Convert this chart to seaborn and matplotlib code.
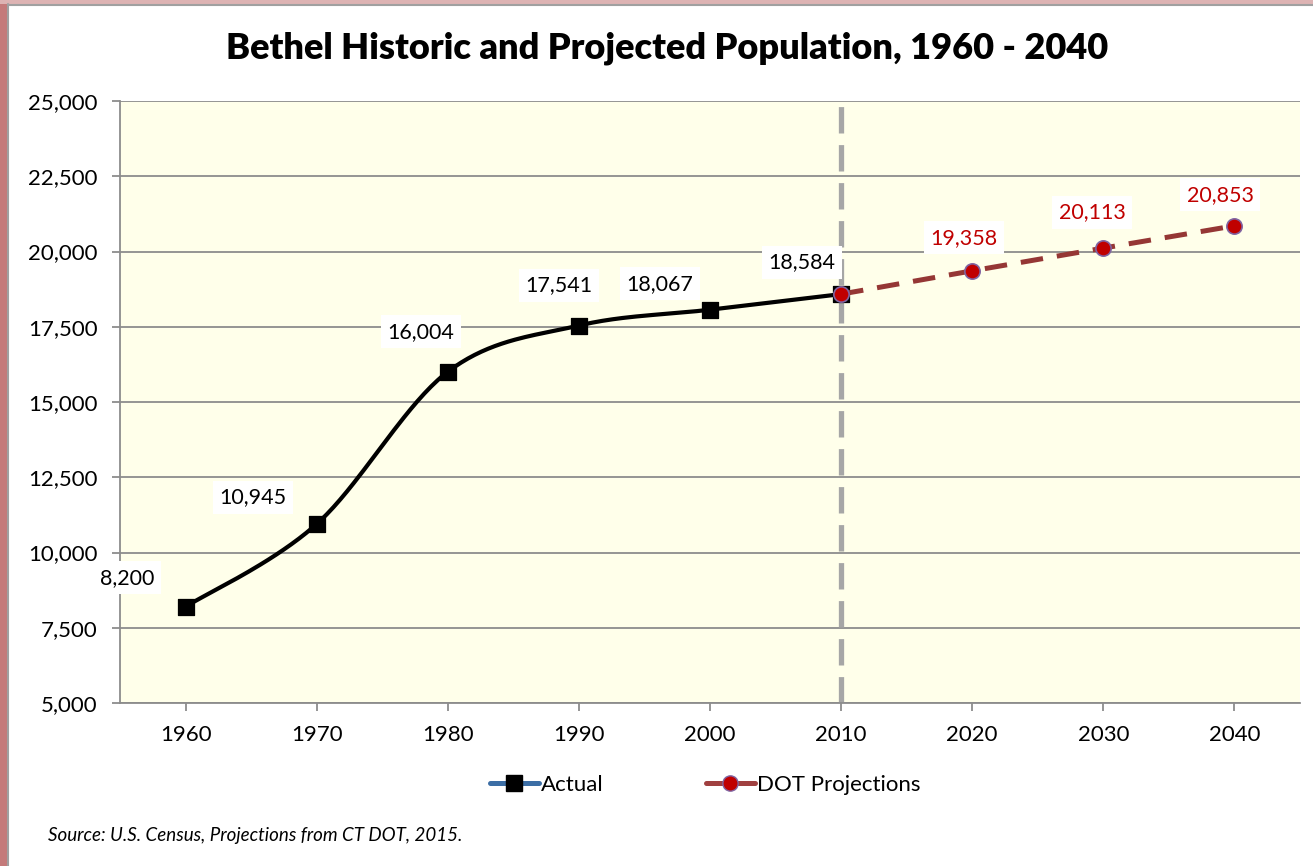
import numpy as np
import seaborn as sns
import matplotlib.pyplot as plt
from matplotlib.lines import Line2D
from matplotlib.patches import Rectangle

years_actual = [1960, 1970, 1980, 1990, 2000, 2010]
pop_actual = [8200, 10945, 16004, 17541, 18067, 18584]
years_proj = [2010, 2020, 2030, 2040]
pop_proj = [18584, 19358, 20113, 20853]
x_ticks = [1960, 1970, 1980, 1990, 2000, 2010, 2020, 2030, 2040]
y_ticks = [5000, 7500, 10000, 12500, 15000, 17500, 20000, 22500, 25000]

# label offsets in pixels (dx, dy)
off_actual = [(-58, 29), (-64, 27), (-27, 40), (-20, 40), (-50, 26), (-39, 32)]
off_proj = [(-8, 33), (-11, 36), (-14, 31)]

sns.set_style("white")
plt.rcParams['font.family'] = ['Lato', 'DejaVu Sans']
plt.rcParams['text.color'] = 'black'

fig = plt.figure(figsize=(13.13, 8.66), dpi=100)
W, H = 1313, 866
ax = fig.add_axes([120 / W, 1 - 703 / H, 1180 / W, 602 / H])
ax.set_facecolor('#FFFFEA')

ax.set_xlim(1955, 2045)
ax.set_ylim(5000, 25000)

# smoothed curve (Catmull-Rom in screen proportions, like Excel smoothing)
sx = 1180 / 90.0
sy = 602 / 20000.0
P = np.column_stack([np.array(years_actual) * sx, np.array(pop_actual) * sy])
curve = []
for i in range(len(P) - 1):
    p0 = P[i - 1] if i > 0 else P[i]
    p1 = P[i]
    p2 = P[i + 1]
    p3 = P[i + 2] if i + 2 < len(P) else P[i + 1]
    c1 = p1 + (p2 - p0) / 6.0
    c2 = p2 - (p3 - p1) / 6.0
    t = np.linspace(0, 1, 40)[:, None]
    seg = ((1 - t) ** 3) * p1 + 3 * ((1 - t) ** 2) * t * c1 + 3 * (1 - t) * t ** 2 * c2 + t ** 3 * p2
    curve.append(seg)
curve = np.vstack(curve)

ax.axvline(2010, color='#A6A6A6', lw=3.8, dashes=(5, 2.2), zorder=2)

ax.plot(curve[:, 0] / sx, curve[:, 1] / sy, color='black', lw=3.0, zorder=3,
        solid_capstyle='round')
sns.scatterplot(x=years_actual, y=pop_actual, marker='s', s=130, color='black',
                edgecolor='black', ax=ax, zorder=4, legend=False)

sns.lineplot(x=years_proj, y=pop_proj, color='#953735', lw=3.6, ax=ax, zorder=5,
             marker='o', markersize=11, markerfacecolor='#C00000',
             markeredgecolor='#8064A2', markeredgewidth=1.2, legend=False,
             dashes=False)
ax.lines[-1].set_dashes((4.5, 2.8))

for x, y, (dx, dy) in zip(years_actual, pop_actual, off_actual):
    ax.annotate(f"{y:,}", (x, y), xytext=(dx, dy), textcoords='offset pixels',
                ha='center', va='center', fontsize=15.5, color='black', zorder=6,
                bbox=dict(boxstyle='square,pad=0.3', fc='white', ec='none'))
for x, y, (dx, dy) in zip(years_proj[1:], pop_proj[1:], off_proj):
    ax.annotate(f"{y:,}", (x, y), xytext=(dx, dy), textcoords='offset pixels',
                ha='center', va='center', fontsize=15.5, color='#C00000', zorder=6,
                bbox=dict(boxstyle='square,pad=0.3', fc='white', ec='none'))

ax.set_xticks(x_ticks)
ax.set_xticklabels([str(v) for v in x_ticks], fontsize=16)
ax.set_yticks(y_ticks)
ax.set_yticklabels([f"{v:,}" for v in y_ticks], fontsize=16)
ax.yaxis.grid(True, color='#8C8C8C', lw=1.3)
ax.set_axisbelow(True)
ax.tick_params(axis='both', length=6, width=1.3, color='#8C8C8C', direction='out',
               left=True, bottom=True, pad=10, labelcolor='black')
for side in ['top', 'right']:
    ax.spines[side].set_visible(False)
for side in ['left', 'bottom']:
    ax.spines[side].set_color('#8C8C8C')
    ax.spines[side].set_linewidth(1.3)

fig.text(667 / W, 1 - 48 / H, 'Bethel Historic and Projected Population, 1960 - 2040',
         ha='center', va='center', fontsize=26, fontweight='heavy', color='black')

handles = [
    Line2D([], [], color='#3C6EA5', lw=3.6, marker='s', markersize=11,
           markerfacecolor='black', markeredgecolor='black', solid_capstyle='round'),
    Line2D([], [], color='#A04040', lw=3.6, marker='o', markersize=11,
           markerfacecolor='#C00000', markeredgecolor='#8064A2', solid_capstyle='round'),
]
fig.legend(handles, ['Actual', 'DOT Projections'], loc='center',
           bbox_to_anchor=(705 / W, 1 - 785 / H), ncol=2, frameon=False,
           fontsize=16, handlelength=2.2, handletextpad=0.1, columnspacing=4.6)

fig.text(48 / W, 1 - 836 / H, 'Source: U.S. Census, Projections from CT DOT, 2015.',
         ha='left', va='center', fontsize=13.5, style='italic', color='black')

# frame border
fig.patches.append(Rectangle((0, 0), 7 / W, 1, transform=fig.transFigure,
                             fc='#C47A7A', ec='none', zorder=0))
fig.patches.append(Rectangle((0, 1 - 4 / H), 1, 4 / H, transform=fig.transFigure,
                             fc='#DDB3B3', ec='none', zorder=0))
fig.add_artist(Line2D([7.5 / W, 7.5 / W], [0, 1 - 4 / H], transform=fig.transFigure,
                      color='#A0A0A0', lw=1.5))
fig.add_artist(Line2D([7.5 / W, 1], [1 - 4.5 / H, 1 - 4.5 / H], transform=fig.transFigure,
                      color='#A0A0A0', lw=1.5))

fig.savefig('out.png', dpi=100)
